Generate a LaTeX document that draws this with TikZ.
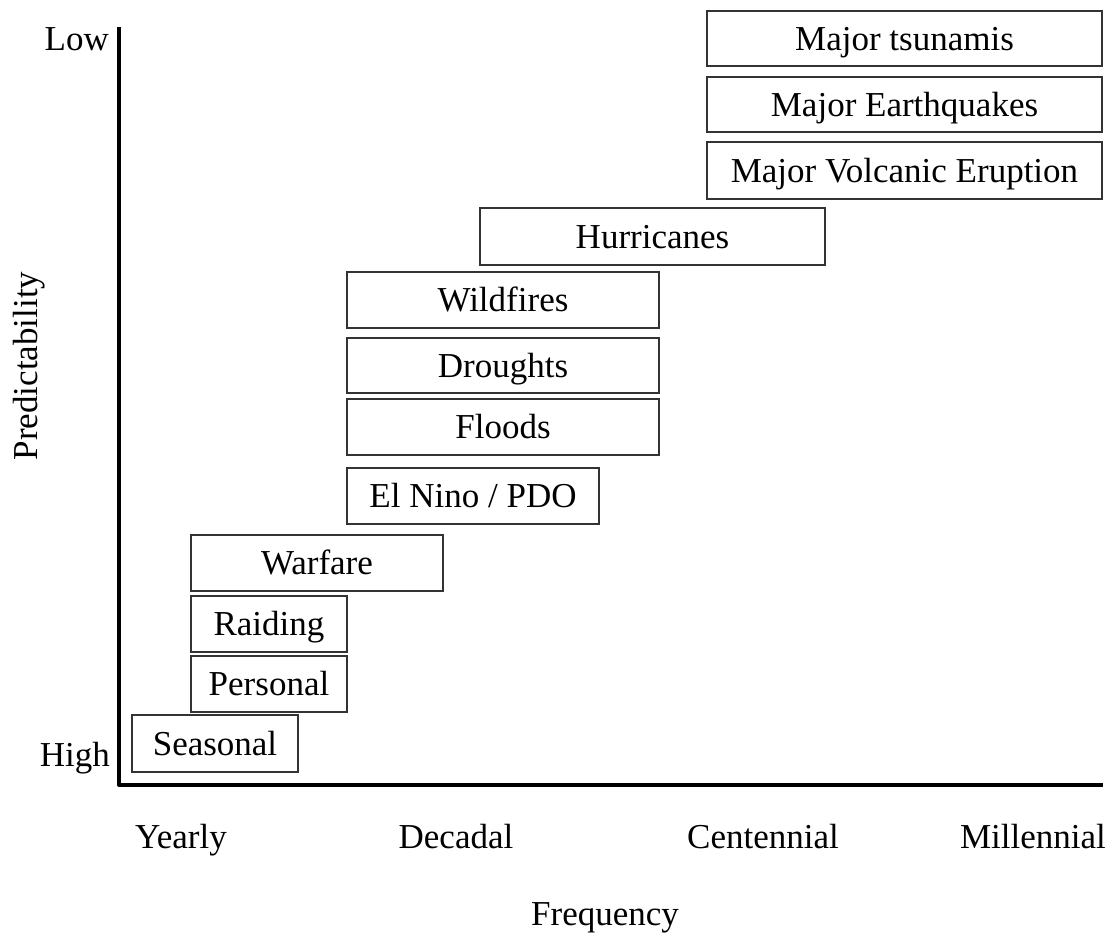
\documentclass[tikz,border=0pt]{standalone}
\usepackage{fontspec}
\setmainfont{Liberation Serif}
\begin{document}
\begin{tikzpicture}[x=1pt,y=-1pt,
  lbl/.style={font=\fontsize{35}{42}\selectfont, inner sep=0pt},
  evbox/.style={draw=black!80, line width=2pt, rectangle, inner sep=0pt,
    font=\fontsize{35}{42}\selectfont, text height=30pt, text depth=7pt,
    minimum height=56pt},
  axisline/.style={line width=4pt, line join=round}]
\useasboundingbox (0,0) rectangle (1114,932);
% axes
\coordinate (ytop) at (119,27);
\coordinate (orig) at (119,785);
\coordinate (xend) at (1103,785);
\draw[axisline] (ytop) -- (orig) -- (xend);
% axis labels
\node[lbl, anchor=base east] (low) at (109,50) {Low};
\node[lbl, anchor=base east] (high) at (110,766) {High};
\node[lbl, rotate=90, anchor=base] (pred) at (37,366) {Predictability};
\node[lbl, anchor=base] (yearly) at (181,848) {Yearly};
\node[lbl, anchor=base] (decadal) at (456,848) {Decadal};
\node[lbl, anchor=base] (cent) at (763,848) {Centennial};
\node[lbl, anchor=base] (mill) at (1033,848) {Millennial};
\node[lbl, anchor=base] (freq) at (605,925) {Frequency};
% event boxes
\node[evbox, minimum width=395pt, minimum height=55pt] (tsun) at (904.5,38.5) {Major tsunamis};
\node[evbox, minimum width=395pt, minimum height=55pt] (quake) at (904.5,104.5) {Major Earthquakes};
\node[evbox, minimum width=395pt, minimum height=57pt] (volc) at (904.5,170.5) {Major Volcanic Eruption};
\node[evbox, minimum width=345pt, minimum height=57pt] (hurr) at (652.5,236.5) {Hurricanes};
\node[evbox, minimum width=312pt] (wild) at (503,300) {Wildfires};
\node[evbox, minimum width=312pt, minimum height=55pt] (drou) at (503,365.5) {Droughts};
\node[evbox, minimum width=312pt] (flood) at (503,427) {Floods};
\node[evbox, minimum width=252pt] (elnino) at (473,495.5) {El Nino / PDO};
\node[evbox, minimum width=252pt] (war) at (317,563) {Warfare};
\node[evbox, minimum width=156pt] (raid) at (269,624) {Raiding};
\node[evbox, minimum width=156pt] (pers) at (269,684) {Personal};
\node[evbox, minimum width=166pt, minimum height=57pt] (seas) at (215,743.5) {Seasonal};
\end{tikzpicture}
\end{document}
